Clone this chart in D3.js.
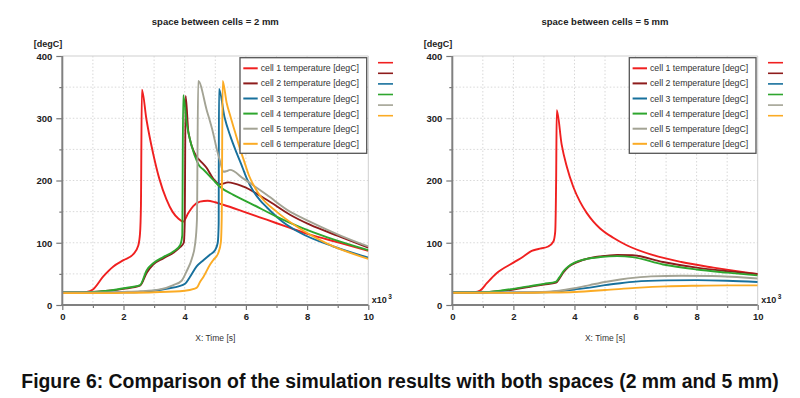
<!DOCTYPE html>
<html><head><meta charset="utf-8">
<script src="https://cdn.jsdelivr.net/npm/d3@7"></script>
<style>body{margin:0;background:#fff}svg{display:block}</style>
</head><body>
<svg id="c" width="800" height="398"></svg>
<script>
const seriesNames = ["cell 1 temperature [degC]","cell 2 temperature [degC]","cell 3 temperature [degC]","cell 4 temperature [degC]","cell 5 temperature [degC]","cell 6 temperature [degC]"];
const colors = ["#f02020","#8e1c1c","#17709c","#2ea62e","#a3a394","#fbab24"];
const xTicks = [0,2,4,6,8,10];
const yTicks = [0,100,200,300,400];
const titles = ["space between cells = 2 mm","space between cells = 5 mm"];

// x in units of 10^3 s, y in degC
const left1 = [[0,20],[0.5,20],[0.8,21],[1.0,25],[1.34,46],[1.67,62],[2.0,72],[2.33,82],[2.48,95],[2.54,115],[2.57,160],[2.6,346],[2.75,298],[2.97,243],[3.17,203],[3.4,170],[3.6,150],[3.79,139],[3.95,134],[4.12,148],[4.28,159],[4.5,166],[4.75,167.5],[5.0,165],[5.26,161],[5.92,150],[6.68,137],[7.44,124],[8.09,113],[9.07,100],[10,87]];
const left2 = [[0,20],[0.5,20],[1.0,21],[1.5,23],[2.0,26],[2.54,31],[2.76,52],[2.97,65],[3.3,75],[3.63,84],[3.85,93],[3.97,100],[4.0,130],[4.03,336],[4.12,278],[4.39,238],[4.5,232],[4.72,220],[4.93,203],[5.15,194],[5.42,197],[5.92,190],[6.68,169],[7.44,145],[8.09,129],[9.07,110],[10,92]];
const left3 = [[0,20],[1.0,20],[2.0,20.5],[2.5,21],[3.0,23],[3.5,27],[3.8,30],[4.01,34],[4.17,45],[4.39,62],[4.61,72],[4.83,81],[4.99,88],[5.08,100],[5.11,130],[5.12,347],[5.3,302],[5.5,270],[5.7,244],[5.88,222],[6.03,203],[6.24,183],[6.45,169],[6.68,157],[7.22,133],[7.77,116],[8.86,94],[10,76]];
const left4 = [[0,20],[0.5,20],[1.0,21],[1.5,23],[2.0,27],[2.54,32],[2.76,56],[2.97,67],[3.3,77],[3.63,86],[3.85,96],[3.92,112],[3.95,337],[4.07,290],[4.23,255],[4.41,230],[4.47,224],[4.6,218],[4.93,201],[5.15,190],[5.59,177],[6.24,161],[7.0,142],[7.77,125],[8.64,109],[10,88]];
const left5 = [[0,20],[1.0,20],[2.0,21],[2.54,22],[3.19,25],[3.63,32],[3.9,39],[4.07,55],[4.23,74],[4.34,98],[4.4,137],[4.44,360],[4.72,313],[4.93,276],[5.05,250],[5.15,232],[5.27,214],[5.37,215],[5.48,217],[5.92,203],[6.68,177],[7.44,150],[8.09,134],[9.07,112],[10,94]];
const left6 = [[0,19],[1.0,19],[2.0,19.5],[3.0,20.5],[4.0,23],[4.3,26],[4.4,28],[4.5,37],[4.61,45],[4.83,65],[4.93,72],[5.1,84],[5.18,100],[5.21,140],[5.24,360],[5.37,325],[5.5,302],[5.65,277],[5.8,252],[5.95,230],[6.1,208],[6.3,188],[6.5,173],[7.0,150],[7.66,126],[8.64,99],[10,74]];

const right1 = [[0,20],[0.5,20],[0.73,20.5],[0.91,23],[1.13,35],[1.45,51],[2.0,68],[2.33,78],[2.6,87],[2.82,90],[3.14,94],[3.31,102],[3.37,118],[3.4,200],[3.42,313],[3.58,258],[3.75,222],[3.96,190],[4.18,166],[4.4,148],[4.62,134],[4.84,123],[5.27,108],[5.71,96],[6.58,80],[7.5,69],[8.55,60],[10,49.5]];
const right2 = [[0,20],[1.0,20.5],[1.5,22],[2.0,25],[2.5,29],[3.0,33],[3.4,36],[3.5,42],[3.65,53],[3.8,61],[4.0,67],[4.4,74],[4.84,78],[5.4,80.5],[5.9,80],[6.9,69],[8.0,60],[9.0,54.5],[10,50]];
const right3 = [[0,20],[1,20],[2,20],[3,20.5],[3.5,22],[4,25],[4.5,28],[5,32],[5.5,35],[6,37.5],[7,39.5],[8,40],[9,39],[10,37]];
const right4 = [[0,20],[1.0,20.5],[1.5,22.5],[2.0,26],[2.5,30],[3.0,34],[3.4,37.5],[3.5,44],[3.65,55],[3.8,62],[4.0,68],[4.4,74],[4.84,77],[5.4,78.5],[5.9,77],[6.9,65],[8.0,57],[9.0,52],[10,47.5]];
const right5 = [[0,20],[1.0,20],[2.0,20.3],[3.0,21],[3.5,23],[4.0,27],[4.5,32],[5.0,37],[5.5,41],[6.0,44],[6.5,46],[7.5,47],[8.5,46.5],[10,42.5]];
const right6 = [[0,19.5],[1,19.5],[2,19.5],[3,20],[4,21],[5,24],[6,27.5],[7,30],[8,31],[9,31.5],[10,31.5]];

const panels = [
  {x0:62.3, x1:368.3, series:[left1,left2,left3,left4,left5,left6], legendX:240, extraX:378},
  {x0:452.3, x1:757.7, series:[right1,right2,right3,right4,right5,right6], legendX:629.3, extraX:768}
];
const yTop = 56, yBot = 305;
const svg = d3.select("#c");
const font = "'Liberation Sans', Arial, sans-serif";

panels.forEach((p, pi) => {
  const x = d3.scaleLinear().domain([0,10]).range([p.x0, p.x1]);
  const y = d3.scaleLinear().domain([0,400]).range([yBot, yTop]);
  const g = svg.append("g");
  // grid
  g.append("g").selectAll("line").data(d3.range(1,10)).join("line")
    .attr("x1", d=>x(d)).attr("x2", d=>x(d)).attr("y1", yTop).attr("y2", yBot)
    .attr("stroke","#d8d8d8").attr("stroke-dasharray","1.5,2").attr("stroke-width",1);
  g.append("g").selectAll("line").data(d3.range(50,400,50)).join("line")
    .attr("x1", p.x0).attr("x2", p.x1).attr("y1", d=>y(d)).attr("y2", d=>y(d))
    .attr("stroke","#d8d8d8").attr("stroke-dasharray","1.5,2").attr("stroke-width",1);
  // plot border top/right
  g.append("path").attr("d",`M${p.x0},${yTop}H${p.x1}V${yBot}`).attr("fill","none").attr("stroke","#cfcfcf").attr("stroke-width",1);
  // clip
  const cid = "clip"+pi;
  svg.append("clipPath").attr("id",cid).append("rect").attr("x",p.x0).attr("y",yTop-2).attr("width",p.x1-p.x0).attr("height",yBot-yTop+2);
  const line = d3.line().x(d=>x(d[0])).y(d=>y(d[1])).curve(d3.curveMonotoneX);
  const order = [0,1,2,3,4,5];
  g.append("g").attr("clip-path",`url(#${cid})`).selectAll("path").data(order).join("path")
    .attr("d", i=>line(p.series[i])).attr("fill","none").attr("stroke", i=>colors[i])
    .attr("stroke-width",1.9).attr("stroke-linejoin","round");
  // axes
  const yAxis = d3.axisLeft(y).tickValues(d3.range(0,401,50)).tickSize(0).tickFormat("");
  const ya = g.append("g").attr("transform",`translate(${p.x0},0)`).call(yAxis);
  ya.select(".domain").remove();
  ya.selectAll(".tick line").remove();
  ya.selectAll(".tick").append("line").attr("x2", d=> d%100===0 ? -6 : -3).attr("stroke","#777").attr("stroke-width",1.2);
  ya.selectAll(".tick").filter(d=>yTicks.includes(d)).append("text").text(d=>d)
    .attr("x",-10).attr("dy","0.35em").attr("text-anchor","end").attr("fill","#222")
    .attr("font-family",font).attr("font-size",9.5).attr("font-weight","bold");
  const xAxis = d3.axisBottom(x).tickValues(d3.range(0,11,1)).tickSize(0).tickFormat("");
  const xa = g.append("g").attr("transform",`translate(0,${yBot})`).call(xAxis);
  xa.select(".domain").remove();
  xa.selectAll(".tick line").remove();
  xa.selectAll(".tick").append("line").attr("y2", d=> d%2===0 ? 5 : 3).attr("stroke","#777").attr("stroke-width",1.2);
  xa.selectAll(".tick").filter(d=>xTicks.includes(d)).append("text").text(d=>d)
    .attr("y",15).attr("text-anchor","middle").attr("fill","#222")
    .attr("font-family",font).attr("font-size",9.5).attr("font-weight","bold");
  // axis lines
  g.append("line").attr("x1",p.x0).attr("x2",p.x0).attr("y1",yTop).attr("y2",yBot+1).attr("stroke","#808080").attr("stroke-width",2);
  g.append("line").attr("x1",p.x0-1).attr("x2",p.x1).attr("y1",yBot).attr("y2",yBot).attr("stroke","#808080").attr("stroke-width",2);
  // labels
  const t = g.append("text").attr("x",p.x1+3.5).attr("y",303).attr("font-family",font).attr("font-size",9).attr("font-weight","bold").attr("fill","#222");
  t.append("tspan").text("x10");
  t.append("tspan").text("3").attr("font-size",6.5).attr("dy",-4).attr("dx",1.5);
  g.append("text").attr("x",p.x0).attr("y",46.5).attr("text-anchor","end").text("[degC]")
    .attr("font-family",font).attr("font-size",9).attr("font-weight","bold").attr("fill","#222");
  g.append("text").attr("x",(p.x0+p.x1)/2).attr("y",341).attr("text-anchor","middle").text("X: Time [s]")
    .attr("font-family",font).attr("font-size",8.5).attr("fill","#333");
  g.append("text").attr("x",(p.x0+p.x1)/2).attr("y",25).attr("text-anchor","middle").text(titles[pi])
    .attr("font-family",font).attr("font-size",9.5).attr("font-weight","bold").attr("fill","#222");
  // legend
  const lg = g.append("g");
  lg.append("rect").attr("x",p.legendX).attr("y",57.7).attr("width",126.7).attr("height",95.6)
    .attr("fill","#fff").attr("stroke","#555").attr("stroke-width",1.3);
  const items = lg.selectAll("g.it").data(seriesNames).join("g").attr("class","it")
    .attr("transform",(d,i)=>`translate(${p.legendX},${68.3+i*15.1})`);
  items.append("line").attr("x1",3.3).attr("x2",17.7).attr("stroke",(d,i)=>colors[i]).attr("stroke-width",2);
  items.append("text").attr("x",20.7).attr("dy","0.35em").text(d=>d)
    .attr("font-family",font).attr("font-size",8.75).attr("fill","#333");
  // extra short legend lines
  g.append("g").selectAll("line").data(colors).join("line")
    .attr("x1",p.extraX).attr("x2",p.extraX+15).attr("y1",(d,i)=>62.7+i*10.6).attr("y2",(d,i)=>62.7+i*10.6)
    .attr("stroke",d=>d).attr("stroke-width",1.6);
});

svg.append("text").attr("x",400).attr("y",388).attr("text-anchor","middle")
  .text("Figure 6: Comparison of the simulation results with both spaces (2 mm and 5 mm)")
  .attr("font-family",font).attr("font-size",19.4).attr("font-weight","bold").attr("fill","#111");
</script>
</body></html>
